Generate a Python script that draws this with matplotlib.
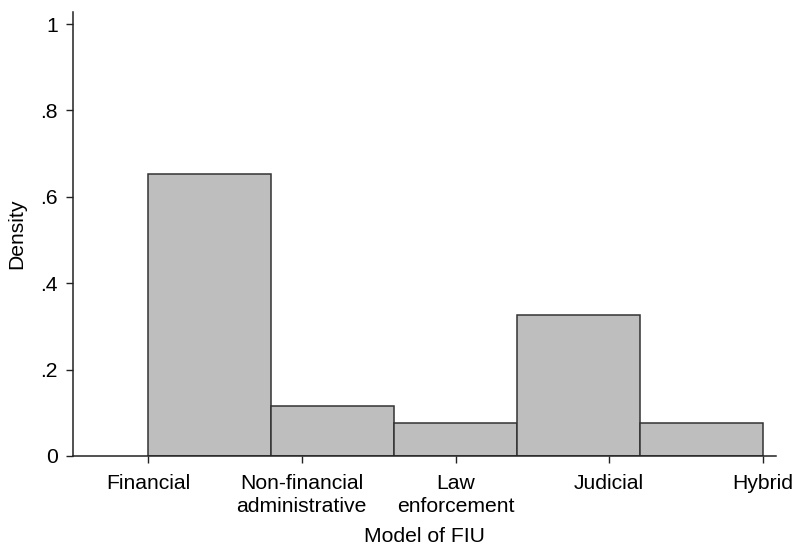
import matplotlib.pyplot as plt

plt.rcParams['font.family'] = ['Liberation Sans', 'DejaVu Sans']

# FIU model categories (coded 1..5) and histogram densities, bin width 0.8
models = ['Financial', 'Non-financial\nadministrative', 'Law\nenforcement', 'Judicial', 'Hybrid']
codes = [1, 2, 3, 4, 5]
bin_left = [1.0, 1.8, 2.6, 3.4, 4.2]
bin_width = 0.8
density = [0.6538, 0.1154, 0.0769, 0.3269, 0.0769]

yticks = [0, 0.2, 0.4, 0.6, 0.8, 1.0]
ytick_labels = ['0', '.2', '.4', '.6', '.8', '1']

fig = plt.figure(figsize=(7.95, 5.47), dpi=100)
ax = fig.add_axes([0.0918, 0.1664, 0.8844, 0.8116])

ax.bar(bin_left, density, width=bin_width, align='edge',
       color='#bebebe', edgecolor='#333333', linewidth=1.1)

ax.set_xlim(0.512, 5.085)
ax.set_ylim(0, 1.028)

ax.set_xticks(codes)
ax.set_xticklabels(models, linespacing=1.25)
ax.set_yticks(yticks)
ax.set_yticklabels(ytick_labels)

ax.tick_params(axis='both', labelsize=15.2, direction='out', length=5,
               width=1, color='#222222')
ax.tick_params(axis='x', pad=8)
ax.tick_params(axis='y', pad=6)

for side in ['top', 'right']:
    ax.spines[side].set_visible(False)
for side in ['left', 'bottom']:
    ax.spines[side].set_linewidth(1.1)
    ax.spines[side].set_color('#222222')

ax.set_xlabel('Model of FIU', fontsize=15.2)
ax.xaxis.set_label_coords(0.5, -0.16)
ax.set_ylabel('Density', fontsize=15.2)
ax.yaxis.set_label_coords(-0.066, 0.5)

fig.savefig('out.png', dpi=100)
